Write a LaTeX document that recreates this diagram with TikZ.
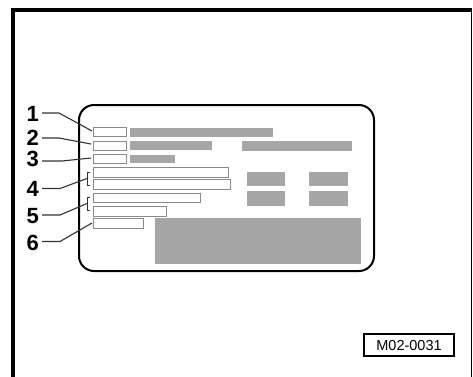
\documentclass[tikz,border=0pt]{standalone}
\usepackage{fontspec}
\setmainfont{Liberation Sans}
\definecolor{barg}{HTML}{A6A6A6}
\definecolor{boxg}{HTML}{8A8A8A}
\definecolor{leadg}{HTML}{333333}
\tikzset{
  field/.style={draw=boxg, line width=1pt, fill=white},
  bar/.style={fill=barg, draw=none},
  leader/.style={draw=leadg, line width=1.1pt},
  num/.style={font=\fontsize{22}{22}\selectfont\bfseries, anchor=east, inner sep=0pt},
  brk/.style={draw=leadg, line width=1pt},
}
\begin{document}
\begin{tikzpicture}[x=1pt,y=-1pt]
\useasboundingbox (0,0) rectangle (473,376);
% outer frame
\draw[line width=3.5pt] (12.8,380) -- (12.8,10) -- (471.5,10);
\draw[line width=1.6pt] (471.5,8.5) -- (471.5,380);
% card
\draw[line width=2pt, rounded corners=15pt] (79,105) rectangle (374,271);
% fields
\draw[field] (93,127) rectangle (126,136);
\draw[field] (93,141) rectangle (126,150);
\draw[field] (93,154) rectangle (126,163);
\draw[field] (93,167) rectangle (228,177);
\draw[field] (93,179) rectangle (230,189);
\draw[field] (93,193) rectangle (200,202);
\draw[field] (93,206) rectangle (166,216);
\draw[field] (93,218) rectangle (143,228);
% bars
\fill[bar] (130,127.5) rectangle (273,136.5);
\fill[bar] (130,141) rectangle (212,150);
\fill[bar] (242,141) rectangle (352,151);
\fill[bar] (130,155) rectangle (175,163);
\fill[bar] (247,172) rectangle (285,186);
\fill[bar] (309,172) rectangle (348,186);
\fill[bar] (247,191) rectangle (285,206);
\fill[bar] (309,191) rectangle (348,206);
\fill[bar] (155,218) rectangle (361,264);
% brackets
\coordinate (b4) at (87,178.5);
\coordinate (b5) at (87,203.5);
\draw[brk] (90,172) -- (87.5,172) -- (87.5,185) -- (90,185);
\draw[brk] (90,197) -- (87.5,197) -- (87.5,210) -- (90,210);
% labels
\node[num] (n1) at (39,114) {1};
\node[num] (n2) at (39,138) {2};
\node[num] (n3) at (39,158.5) {3};
\node[num] (n4) at (39,188.5) {4};
\node[num] (n5) at (39,216) {5};
\node[num] (n6) at (39,242.5) {6};
\coordinate (e1) at (92,131);
\coordinate (e2) at (91,144);
\coordinate (e3) at (91,158);
\coordinate (e6) at (92,223);
\draw[leader] (n1.east) ++(3,-1) -- ++(17,0) -- (e1);
\draw[leader] (n2.east) ++(3,0) -- ++(17,0) -- (e2);
\draw[leader] (n3.east) ++(3,2.5) -- ++(20,0) -- (e3);
\draw[leader] (n4.east) ++(3,0) -- ++(18,0) -- (b4);
\draw[leader] (n5.east) ++(3,-1) -- ++(18,0) -- (b5);
\draw[leader] (n6.east) ++(3,-1) -- ++(18,0) -- (e6);
% code box
\node[draw, line width=1.3pt, minimum width=90pt, minimum height=22pt, inner sep=0pt,
      font=\fontsize{14.5}{14.5}\selectfont] (code) at (409,345) {M02-0031};
\end{tikzpicture}
\end{document}
